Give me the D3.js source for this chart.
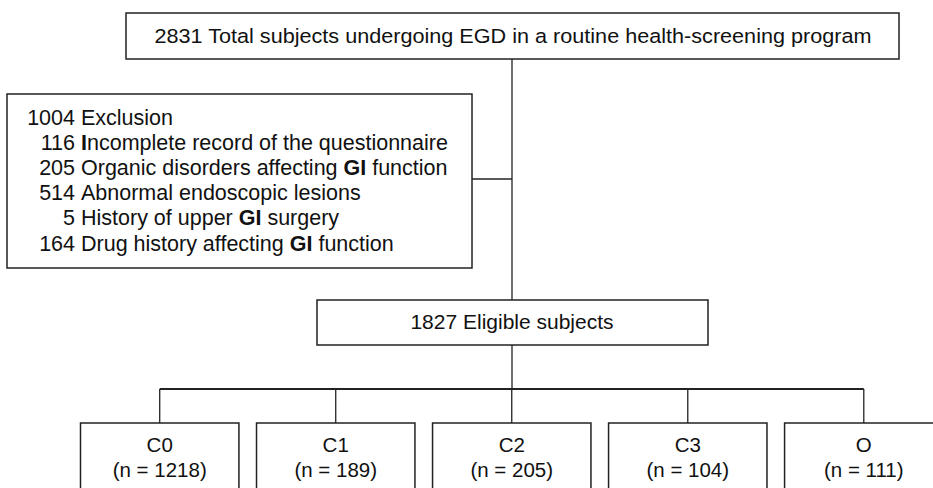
<!DOCTYPE html>
<html>
<head>
<meta charset="utf-8">
<script src="https://cdn.jsdelivr.net/npm/d3@7"></script>
<style>
  body { margin: 0; background: #fff; }
  text { font-family: "Liberation Sans", Arial, sans-serif; fill: #111; }
</style>
</head>
<body>
<svg width="933" height="488"></svg>
<script>
// --- data ---
const totalN = 2831;
const totalLabel = "Total subjects undergoing EGD in a routine health-screening program";
const exclusionCounts = [1004, 116, 205, 514, 5, 164];
const exclusionLabels = [
  "Exclusion",
  "Incomplete record of the questionnaire",
  "Organic disorders affecting GI function",
  "Abnormal endoscopic lesions",
  "History of upper GI surgery",
  "Drug history affecting GI function"
];
const eligibleN = 1827;
const eligibleLabel = "Eligible subjects";
const groups = ["C0", "C1", "C2", "C3", "O"];
const groupN = [1218, 189, 205, 104, 111];

const svg = d3.select("svg");
const stroke = "#222";

// box helper
function box(x, y, w, h) {
  return svg.append("rect")
    .attr("x", x).attr("y", y).attr("width", w).attr("height", h)
    .attr("fill", "#fff").attr("stroke", stroke).attr("stroke-width", 1.5);
}
function line(x1, y1, x2, y2, sw) {
  svg.append("line")
    .attr("x1", x1).attr("y1", y1).attr("x2", x2).attr("y2", y2)
    .attr("stroke", stroke).attr("stroke-width", sw || 1.3);
}

const midX = 512;

// --- connectors (drawn first, boxes go on top) ---
const groupX = d3.scaleBand().domain(groups).range([80.5, 943]).paddingInner(0.1).paddingOuter(0);
const busY = 389;
line(midX, 59, midX, 300);
line(472, 179, midX, 179);
line(midX, 345, midX, busY);
line(groupX("C0") + groupX.bandwidth() / 2, busY, groupX("O") + groupX.bandwidth() / 2, busY, 2);
groups.forEach(g => line(groupX(g) + groupX.bandwidth() / 2, busY, groupX(g) + groupX.bandwidth() / 2, 423));

// --- top box ---
box(126, 13, 773, 46);
svg.append("text")
  .attr("x", 513).attr("y", 36).attr("dy", "0.35em")
  .attr("text-anchor", "middle")
  .style("font-size", "20.5px")
  .attr("textLength", 717).attr("lengthAdjust", "spacingAndGlyphs")
  .text(`${totalN} ${totalLabel}`);

// --- exclusion box ---
box(7, 94, 465, 174);
const rowY = d3.scalePoint().domain(d3.range(exclusionCounts.length)).range([117, 243]);
const exRows = svg.append("g").selectAll("g")
  .data(exclusionCounts.map((n, i) => ({ n, label: exclusionLabels[i], i })))
  .join("g")
  .attr("transform", d => `translate(0,${rowY(d.i)})`);
exRows.append("text")
  .attr("x", 75).attr("dy", "0.35em").attr("text-anchor", "end")
  .style("font-size", "21.5px")
  .text(d => d.n);
exRows.append("text")
  .attr("x", 81).attr("dy", "0.35em")
  .style("font-size", "21.5px")
  .each(function(d) {
    // the source typeface renders capital "I" / "GI" heavier
    const parts = d.label.split(/(GI|I)/).filter(s => s.length);
    d3.select(this).selectAll("tspan").data(parts).join("tspan")
      .style("font-weight", s => (s === "GI" || s === "I") ? "bold" : "normal")
      .text(s => s);
  });

// --- eligible box ---
box(317, 300, 391, 45);
svg.append("text")
  .attr("x", midX).attr("y", 322).attr("dy", "0.35em")
  .attr("text-anchor", "middle")
  .style("font-size", "21px")
  .text(`${eligibleN} ${eligibleLabel}`);

// --- group boxes ---
const gBoxes = svg.append("g").selectAll("g")
  .data(groups.map((g, i) => ({ g, n: groupN[i] })))
  .join("g")
  .attr("transform", d => `translate(${groupX(d.g)},423)`);
gBoxes.append("rect")
  .attr("width", groupX.bandwidth()).attr("height", 80)
  .attr("fill", "#fff").attr("stroke", stroke).attr("stroke-width", 1.5);
gBoxes.append("text")
  .attr("x", groupX.bandwidth() / 2).attr("y", 22).attr("dy", "0.35em")
  .attr("text-anchor", "middle").style("font-size", "20.5px")
  .text(d => d.g);
gBoxes.append("text")
  .attr("x", groupX.bandwidth() / 2).attr("y", 47).attr("dy", "0.35em")
  .attr("text-anchor", "middle").style("font-size", "20.5px")
  .text(d => `(n = ${d.n})`);
</script>
</body>
</html>
